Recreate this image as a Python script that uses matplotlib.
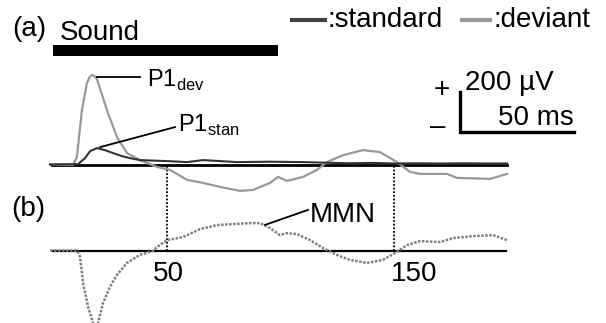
"""ERP: respostas padrão/desviante (a) e diferença MMN (b)."""
import matplotlib
matplotlib.use("Agg")
import matplotlib.pyplot as plt

plt.rcParams["font.family"] = ["Liberation Sans", "DejaVu Sans"]
plt.rcParams["mathtext.fontset"] = "custom"
plt.rcParams["mathtext.rm"] = "Liberation Sans"

# --- dados (tempo em ms, tensão em µV) ---
dev_t = [-1.4, 8.7, 10.4, 12.6, 14.8, 16.0, 17.0, 18.2, 19.2, 23.6, 28.0, 32.4,
         38.1, 45.6, 51.3, 58.8, 65.8, 73.3, 82.1, 87.8, 95.3, 98.8, 102.7, 109.8,
         115.9, 120.3, 127.4, 136.2, 143.6, 151.1, 156.8, 161.2, 173.1, 177.5,
         192.0, 199.5]
dev_v = [0, -2, 37, 272, 407, 438, 447, 442, 427, 272, 137, 57,
         22, -12, -27, -77, -92, -112, -132, -127, -92, -62, -82, -62,
         -27, 12, 47, 72, 62, 12, -37, -47, -47, -67,
         -72, -47]

std_t = [-1.4, 10.9, 14.0, 16.2, 19.2, 22.7, 26.3, 30.2, 33.7, 38.1, 50, 58.8,
         65.8, 73.3, 80.8, 95.3, 109.8, 120.3, 130, 140, 150, 160, 170, 180, 190, 199.5]
std_v = [0, 2, 32, 67, 82, 72, 57, 42, 32, 22, 17, 12,
         22, 17, 12, 14, 12, 9, 6, 8, 5, 6, 5, 6, 5, 5]

# MMN como desenhada em (b)
mmn_t = [-1.4, 10.4, 11.8, 13.1, 15.3, 17.5, 18.6, 19.7, 21.9, 24.9, 28.0, 32.4,
         38.1, 43.8, 45.6, 50.0, 57.0, 64.5, 72.0, 79.0, 86.5, 90.9, 95.3, 99.7,
         102.7, 107.1, 112.9, 118.6, 124.7, 130.4, 137.9, 144.9, 151.1, 155.5,
         161.2, 170.0, 175.7, 184.5, 193.3, 199.5]
mmn_v = [0, 0, -32, -162, -282, -362, -400, -362, -262, -182, -122, -62,
         -22, -2, 17, 52, 67, 107, 127, 132, 137, 137, 112, 77,
         87, 82, 52, 12, -22, -47, -62, -47, -7, 27,
         47, 42, 62, 72, 77, 52]

sound_on, sound_off = 0, 99      # duração do estímulo (ms)
marcas = [50, 150]               # linhas pontilhadas
OFFSET_B = -430                  # linha de base do painel (b)

C_STD = "#333333"
C_DEV = "#999999"
C_MMN = "#7f7f7f"
FS = 20

fig = plt.figure(figsize=(6.06, 3.23), dpi=100)
ax = fig.add_axes([0, 0, 1, 1])
ax.set_xlim(-23.41, 242.97)
ax.set_ylim(-792.5, 822.5)
ax.axis("off")

# linhas de base
ax.plot([-0.5, 199.5], [0, 0], color="black", lw=2, zorder=1)
ax.plot([0, 199], [OFFSET_B, OFFSET_B], color="black", lw=1.6, zorder=1)

# traços
ax.plot(std_t, std_v, color=C_STD, lw=1.5, zorder=3)
ax.plot(dev_t, dev_v, color=C_DEV, lw=1.6, zorder=2)
ax.plot(mmn_t, [v + OFFSET_B for v in mmn_v], color=C_MMN, lw=1.8,
        ls=(0, (1, 0.6)), zorder=2)

for m in marcas:
    ax.plot([m, m], [-5, OFFSET_B], color="black", lw=1.3, ls=(0, (1, 1)), zorder=1)
ax.text(50.5, -582, "50", fontsize=FS, ha="center", va="baseline")
ax.text(158.6, -582, "150", fontsize=FS, ha="center", va="baseline")

# barra do som
ax.fill_between([sound_on, sound_off], 543, 598, color="black", lw=0)
ax.text(3, 625, "Sound", fontsize=FS, ha="left", va="baseline")
ax.text(-10.7, 640, "(a)", fontsize=FS, ha="center", va="baseline")
ax.text(-10.9, -260, "(b)", fontsize=FS, ha="center", va="baseline")

# legenda
ax.plot([105, 119.5], [722, 722], color="#444444", lw=3)
ax.text(120.4, 687, ":standard", fontsize=FS, ha="left", va="baseline")
ax.plot([179.7, 192], [722, 722], color=C_DEV, lw=3)
ax.text(193.3, 687, ":deviant", fontsize=FS, ha="left", va="baseline")

# barra de escala
ax.plot([178.8, 178.8, 228.8], [362, 162, 162], color="black", lw=2.4,
        solid_joinstyle="miter")
ax.text(170.9, 372, "+", fontsize=FS, ha="center", va="center")
ax.text(169.1, 187, "\u2013", fontsize=FS, ha="center", va="center")
ax.text(181, 372, "200 \u00b5V", fontsize=FS, ha="left", va="baseline")
ax.text(195.5, 197, "50 ms", fontsize=FS, ha="left", va="baseline")

# rótulos dos picos
ax.plot([19.2, 38.2], [437, 437], color="black", lw=1.3)
ax.text(41.2, 387, r"P1$_{\mathrm{dev}}$", fontsize=17, ha="left", va="baseline")
ax.plot([20.6, 53.5], [87, 187], color="black", lw=1.3)
ax.text(54.8, 162, r"P1$_{\mathrm{stan}}$", fontsize=17, ha="left", va="baseline")
ax.plot([93.1, 112], [-302, -227], color="black", lw=1.3)
ax.text(112.9, -287, "MMN", fontsize=FS, ha="left", va="baseline")

fig.savefig("out.png", dpi=100)
